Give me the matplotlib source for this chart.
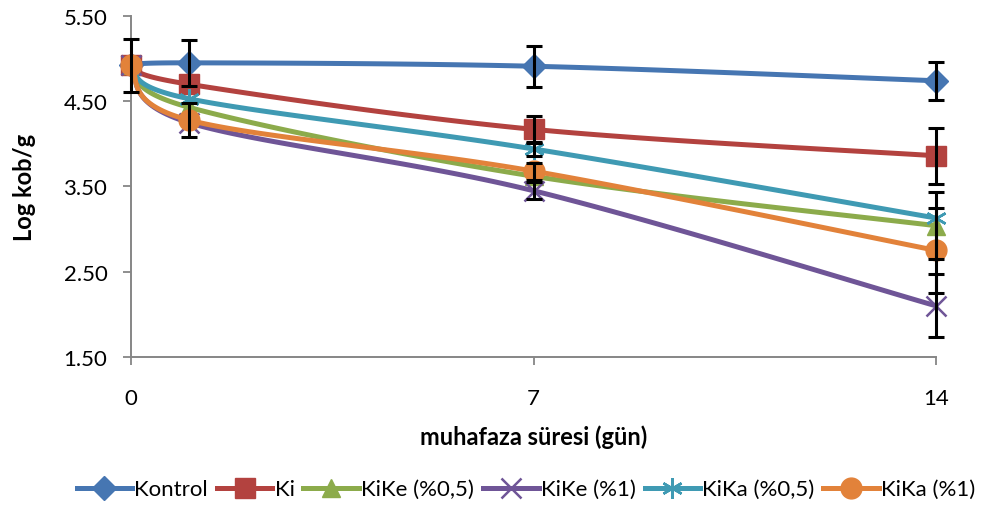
import numpy as np
import matplotlib
matplotlib.use("Agg")
import matplotlib.pyplot as plt
from matplotlib.lines import Line2D

plt.rcParams['font.family'] = ['Lato', 'DejaVu Sans']

# ---------- data ----------
days = [0, 1, 7, 14]
series_names = ["Kontrol", "Ki", "KiKe (%0,5)", "KiKe (%1)", "KiKa (%0,5)", "KiKa (%1)"]
kontrol = [4.92, 4.95, 4.91, 4.74]
ki = [4.92, 4.70, 4.17, 3.86]
kike_05 = [4.92, 4.43, 3.62, 3.04]
kike_1 = [4.92, 4.25, 3.45, 2.10]
kika_05 = [4.92, 4.53, 3.94, 3.13]
kika_1 = [4.92, 4.28, 3.68, 2.75]

err_kontrol = [0.31, 0.27, 0.24, 0.22]
err_ki = [0.0, 0.0, 0.16, 0.33]
err_kike_05 = [0.0, 0.0, 0.0, 0.39]
err_kike_1 = [0.0, 0.0, 0.10, 0.37]
err_kika_05 = [0.0, 0.0, 0.08, 0.0]
err_kika_1 = [0.0, 0.20, 0.10, 0.50]

values = [kontrol, ki, kike_05, kike_1, kika_05, kika_1]
errors = [err_kontrol, err_ki, err_kike_05, err_kike_1, err_kika_05, err_kika_1]
colors = ["#4676B2", "#B3423F", "#8CAB4B", "#6F5597", "#3F9AB3", "#E2823A"]
markers = ["D", "s", "^", "x", "*", "o"]
msizes = [12, 14, 13, 14, 15, 15]
LW = 3.6


def excel_smooth(x, y, n=40):
    # Bezier smoothing the way Excel draws "smoothed line"
    pts = np.column_stack([x, y]).astype(float)
    out = []
    for i in range(len(pts) - 1):
        p0 = pts[i - 1] if i > 0 else pts[i]
        p1, p2 = pts[i], pts[i + 1]
        p3 = pts[i + 2] if i + 2 < len(pts) else pts[i + 1]
        c1 = p1 + (p2 - p0) / 6
        c2 = p2 - (p3 - p1) / 6
        t = np.linspace(0, 1, n)[:, None]
        seg = ((1 - t) ** 3) * p1 + 3 * ((1 - t) ** 2) * t * c1 + 3 * (1 - t) * t ** 2 * c2 + t ** 3 * p2
        out.append(seg)
    out = np.vstack(out)
    return out[:, 0], out[:, 1]


def marker_kw(i):
    kw = dict(marker=markers[i], ms=msizes[i], color=colors[i])
    if markers[i] in ("x", "*"):
        kw.update(mew=1.8)
    else:
        kw.update(mec=colors[i])
    if markers[i] == "*":
        kw.update(marker=(6, 2, 0))
    return kw


fig = plt.figure(figsize=(10, 5.06), dpi=100)
ax = fig.add_axes([0.131, 0.2925, 0.805, 0.674])

for i, (name, vals) in enumerate(zip(series_names, values)):
    sx, sy = excel_smooth(days, vals)
    ax.plot(sx, sy, color=colors[i], lw=LW, solid_capstyle="round", zorder=2 + i, clip_on=False)
    ax.plot(days, vals, ls="none", zorder=2 + i, clip_on=False, **marker_kw(i))

for vals, errs in zip(values, errors):
    d = [x for x, e in zip(days, errs) if e > 0]
    v = [y for y, e in zip(vals, errs) if e > 0]
    e = [e for e in errs if e > 0]
    if d:
        eb = ax.errorbar(d, v, yerr=e, fmt="none", ecolor="black", elinewidth=2.2,
                         capsize=6, capthick=2.2, zorder=10)
        for art in eb.lines[1] + eb.lines[2]:
            art.set_clip_on(False)

ax.set_xlim(0, 14)
ax.set_ylim(1.5, 5.5)
ax.set_xticks([0, 7, 14])
ax.set_yticks([1.5, 2.5, 3.5, 4.5, 5.5])
ax.set_yticklabels([f"{v:.2f}" for v in [1.5, 2.5, 3.5, 4.5, 5.5]])
ax.tick_params(axis="both", labelsize=16, color="#868686", length=6, width=1.3)
ax.tick_params(axis="y", pad=11)
ax.tick_params(axis="x", pad=16)
for side in ("top", "right"):
    ax.spines[side].set_visible(False)
for side in ("left", "bottom"):
    ax.spines[side].set_color("#868686")
    ax.spines[side].set_linewidth(1.4)

ax.set_ylabel("Log kob/g", fontsize=17, fontweight="bold", labelpad=20)
ax.set_xlabel("muhafaza süresi (gün)", fontsize=17, fontweight="bold", labelpad=12)

handles = []
for i, name in enumerate(series_names):
    handles.append(Line2D([0], [0], label=name, lw=LW, **marker_kw(i)))
fig.legend(handles=handles, loc="center", bbox_to_anchor=(0.526, 0.031), ncol=6,
           frameon=False, fontsize=16, handlelength=2.5, handletextpad=0.1,
           columnspacing=0.4)

fig.savefig("out.png", dpi=100)
